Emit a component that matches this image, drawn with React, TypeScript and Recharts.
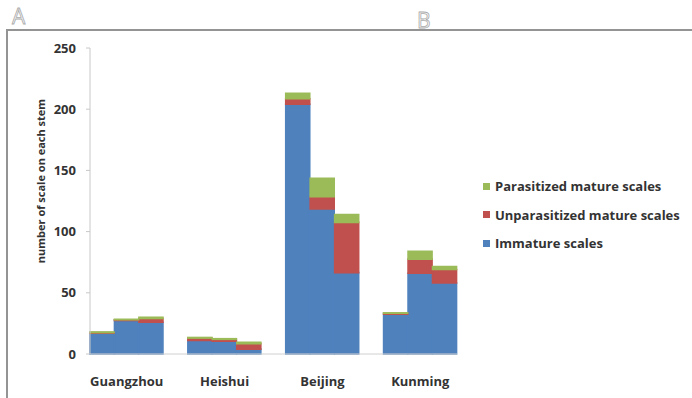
import React from 'react';
import { BarChart, Bar, XAxis, YAxis, Label } from 'recharts';

const sites = ['Guangzhou', 'Heishui', 'Beijing', 'Kunming'];
const immature = [[17, 27.5, 26], [11, 10.5, 4], [204, 118.5, 66.5], [32.5, 66, 58]];
const unparasitized = [[0.5, 0.5, 3], [2, 1.5, 4.5], [4.5, 10, 41], [0.8, 11.5, 11]];
const parasitized = [[0.5, 0.4, 1], [0.5, 0.5, 1], [4.5, 15, 6.5], [0.3, 6.5, 2.5]];

const seriesNames = ['Immature scales', 'Unparasitized mature scales', 'Parasitized mature scales'];
const seriesKeys = ['imm', 'unp', 'par'];
const seriesColors = ['#4F81BD', '#C0504D', '#9BBB59'];
const yTicks = [0, 50, 100, 150, 200, 250];
const yTitle = 'number of scale on each stem';

const FONT = '"Open Sans", "Liberation Sans", sans-serif';

type Row = { key: string; site: string; pos: number; imm?: number; unp?: number; par?: number };
const rows: Row[] = [];
sites.forEach((site, i) => {
  for (let j = 0; j < 3; j++) {
    rows.push({ key: `${site}-${j}`, site, pos: j, imm: immature[i][j], unp: unparasitized[i][j], par: parasitized[i][j] });
  }
  if (i < sites.length - 1) rows.push({ key: `gap-${i}`, site: '', pos: -1 });
});
const labelFor: Record<string, string> = {};
rows.forEach((r) => { labelFor[r.key] = r.pos === 1 ? r.site : ''; });

const XTick = (props: any) => {
  const { x, y, payload } = props;
  const t = labelFor[payload.value];
  if (!t) return null;
  return (
    <text x={x} y={y + 32} textAnchor="middle" fill="#333" fontSize={13} fontWeight={700} fontFamily={FONT}>
      {t}
    </text>
  );
};

export default function App() {
  return (
    <div style={{ position: 'absolute', left: 0, top: 0, width: 692, height: 398, background: '#fff', overflow: 'hidden' }}>
      <div style={{ position: 'absolute', left: 6, top: 29, width: 700, height: 400, borderTop: '2px solid #949494', borderLeft: '2px solid #949494' }} />
      <svg style={{ position: 'absolute', left: 0, top: 0 }} width={692} height={40}>
        <text x={12} y={24} fontSize={21} fontFamily={FONT} fill="#fff" stroke="#aaa" strokeWidth={0.8}>A</text>
        <text x={417} y={28} fontSize={21} fontFamily={FONT} fill="#fff" stroke="#aaa" strokeWidth={0.8}>B</text>
      </svg>
      <div style={{ position: 'absolute', left: 0, top: 0 }}>
        <BarChart width={692} height={398} data={rows} margin={{ top: 48, right: 235, bottom: 14, left: 0 }} barCategoryGap={0} barGap={0}>
          <XAxis dataKey="key" interval={0} tick={<XTick />} tickLine={false} tickSize={0} tickMargin={0} height={30} axisLine={{ stroke: '#d0d0d0' }} />
          <YAxis
            width={90}
            domain={[0, 250]}
            ticks={yTicks}
            interval={0}
            tickSize={4}
            tickMargin={10}
            axisLine={{ stroke: '#c8c8c8' }}
            tickLine={{ stroke: '#c8c8c8' }}
            tick={{ fill: '#333', fontSize: 13, fontWeight: 700, fontFamily: FONT }}
          >
            <Label
              content={() => (
                <text x={40} y={181} transform="rotate(-90 40 181)" textAnchor="middle" dominantBaseline="central" fill="#333" fontSize={11} fontWeight={700} fontFamily={FONT}>
                  {yTitle}
                </text>
              )}
            />
          </YAxis>
          {seriesKeys.map((k, i) => (
            <Bar key={k} dataKey={k} name={seriesNames[i]} stackId="s" fill={seriesColors[i]} stroke={seriesColors[i]} strokeWidth={1.6} isAnimationActive={false} />
          ))}
        </BarChart>
      </div>
      <div style={{ position: 'absolute', left: 483, top: 172, fontFamily: FONT, fontSize: 13, fontWeight: 700, color: '#333' }}>
        {[2, 1, 0].map((i) => (
          <div key={i} style={{ display: 'flex', alignItems: 'center', height: 28.5, whiteSpace: 'nowrap' }}>
            <span style={{ display: 'inline-block', width: 7, height: 7, background: seriesColors[i], marginRight: 5 }} />
            <span>{seriesNames[i]}</span>
          </div>
        ))}
      </div>
    </div>
  );
}
